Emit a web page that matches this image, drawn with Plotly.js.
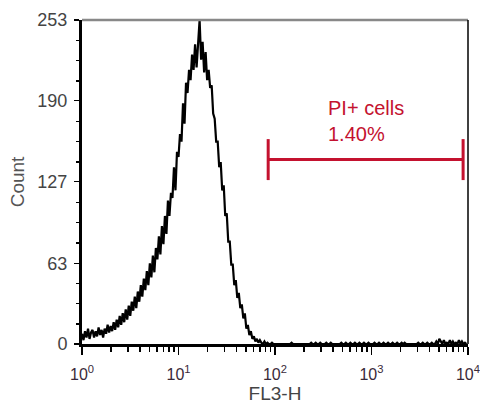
<!DOCTYPE html>
<html>
<head>
<meta charset="utf-8">
<script src="https://cdn.plot.ly/plotly-3.0.1.min.js"></script>
<style>html,body{margin:0;padding:0;background:#fff;}#chart{width:480px;height:414px;}</style>
</head>
<body>
<div id="chart"></div>
<script>
// Histogram: counts per channel (256 log channels over 4 decades)
const counts = [
  8, 3, 10, 5, 12, 4, 9, 11, 5, 10,
  6, 13, 7, 11, 5, 12, 8, 15, 9, 14,
  10, 17, 11, 19, 13, 22, 15, 24, 17, 27,
  19, 30, 22, 33, 26, 37, 28, 41, 33, 46,
  37, 51, 42, 57, 46, 63, 52, 69, 56, 75,
  66, 84, 70, 92, 78, 100, 86, 112, 100, 118,
  114, 138, 120, 150, 146, 164, 158, 188, 172, 204,
  196, 214, 206, 226, 214, 234, 216, 240, 253, 222,
  236, 212, 228, 206, 214, 200, 202, 180, 176, 158,
  158, 138, 142, 120, 124, 100, 102, 80, 80, 62,
  62, 46, 50, 36, 40, 28, 31, 20, 24, 12,
  15, 7, 10, 4, 6, 2, 4, 1, 3, 1,
  0, 2, 0, 1, 0, 0, 1, 0, 0, 0,
  0, 0, 0, 0, 0, 0, 0, 0, 0, 1,
  0, 0, 0, 0, 0, 0, 0, 0, 0, 0,
  0, 0, 1, 0, 0, 1, 0, 0, 1, 0,
  0, 0, 1, 0, 0, 1, 0, 0, 0, 0,
  0, 0, 1, 0, 0, 1, 0, 0, 1, 0,
  0, 1, 0, 0, 1, 0, 0, 1, 0, 0,
  1, 0, 0, 0, 1, 0, 0, 1, 0, 0,
  1, 0, 0, 1, 0, 0, 1, 0, 0, 1,
  0, 0, 1, 0, 1, 0, 0, 0, 0, 0,
  0, 0, 0, 1, 0, 0, 1, 0, 0, 1,
  0, 0, 1, 0, 0, 2, 0, 4, 2, 0,
  3, 0, 1, 0, 3, 0, 2, 0, 1, 0,
  3, 0, 2, 0, 1, 0
];
const channelsPerDecade = 64;
const channels = counts.map((_, i) => i);
const fl3 = channels.map(c => Math.pow(10, c / channelsPerDecade));

// Axis ticks
const xTickVals = [1, 10, 100, 1000, 10000];
const xTickText = ['10<sup>0</sup>', '10<sup>1</sup>', '10<sup>2</sup>', '10<sup>3</sup>', '10<sup>4</sup>'];
const yTickVals = [0, 63, 127, 190, 253];
const yMax = 253;

// Gate
const gateX = [85, 8900];
const gateY = 144;
const gateBar = [128, 160];
const gateLabel = 'PI+ cells<br>1.40%';
const gateLabelPos = [337, 174];

const xMinor = [];
for (let d = 0; d < 4; d++) for (let k = 2; k <= 9; k++) xMinor.push(k * Math.pow(10, d));
const yMinor = [];
for (let k = 1; k < 16; k++) if (k % 4 !== 0) yMinor.push(k * yMax / 16);

const red = '#c4122f';
const font = 'Liberation Sans, Arial, sans-serif';

const trace = {
  x: fl3, y: counts, type: 'scatter', mode: 'lines',
  line: {color: '#000', width: 2.2},
  hoverinfo: 'skip', showlegend: false
};

const layout = {
  width: 480, height: 414,
  margin: {l: 82, r: 12, t: 20, b: 70},
  paper_bgcolor: '#fff', plot_bgcolor: '#fff',
  font: {family: font, color: '#333'},
  xaxis: {
    type: 'log', range: [0, 4.0002], showgrid: false, zeroline: false,
    showline: true, linecolor: '#000', linewidth: 3,
    tickmode: 'array', tickvals: xTickVals, ticktext: xTickText,
    ticks: 'outside', ticklen: 8, tickwidth: 1.5, tickcolor: '#000',
    ticklabelstandoff: 6,
    tickfont: {size: 16, color: '#3a2a3a', family: font},
    minor: {tickmode: 'array', tickvals: xMinor, ticks: 'outside', ticklen: 5, tickwidth: 1.5, tickcolor: '#000', showgrid: false},
    title: {text: 'FL3-H', font: {size: 19, color: '#444', family: font}, standoff: 4}
  },
  yaxis: {
    range: [0, yMax], showgrid: false, zeroline: false,
    showline: true, linecolor: '#000', linewidth: 3,
    tickmode: 'array', tickvals: yTickVals,
    ticks: 'outside', ticklen: 5, tickwidth: 1.5, tickcolor: '#000',
    ticklabelstandoff: 3,
    tickfont: {size: 18, color: '#444', family: font},
    minor: {tickmode: 'array', tickvals: yMinor, ticks: 'outside', ticklen: 3, tickwidth: 1.5, tickcolor: '#000', showgrid: false},
    title: {text: 'Count', font: {size: 19, color: '#555', family: font}, standoff: 8}
  },
  shapes: [
    {type: 'line', xref: 'paper', yref: 'paper', x0: 0, x1: 1, y0: 1, y1: 1, line: {color: '#888', width: 2.5}},
    {type: 'line', xref: 'paper', yref: 'paper', x0: 1, x1: 1, y0: 0, y1: 1, line: {color: '#000', width: 1.5}},
    {type: 'line', xref: 'x', yref: 'y', x0: gateX[0], x1: gateX[1], y0: gateY, y1: gateY, line: {color: red, width: 3}},
    {type: 'line', xref: 'x', yref: 'y', x0: gateX[0], x1: gateX[0], y0: gateBar[0], y1: gateBar[1], line: {color: red, width: 3}},
    {type: 'line', xref: 'x', yref: 'y', x0: gateX[1], x1: gateX[1], y0: gateBar[0], y1: gateBar[1], line: {color: red, width: 3}}
  ],
  annotations: [
    {x: Math.log10(gateLabelPos[0]), y: gateLabelPos[1], xref: 'x', yref: 'y', text: gateLabel,
     showarrow: false, xanchor: 'left', yanchor: 'middle', align: 'left',
     font: {size: 20, color: red, family: font}}
  ]
};

Plotly.newPlot('chart', [trace], layout, {displayModeBar: false, staticPlot: true});
</script>
</body>
</html>
